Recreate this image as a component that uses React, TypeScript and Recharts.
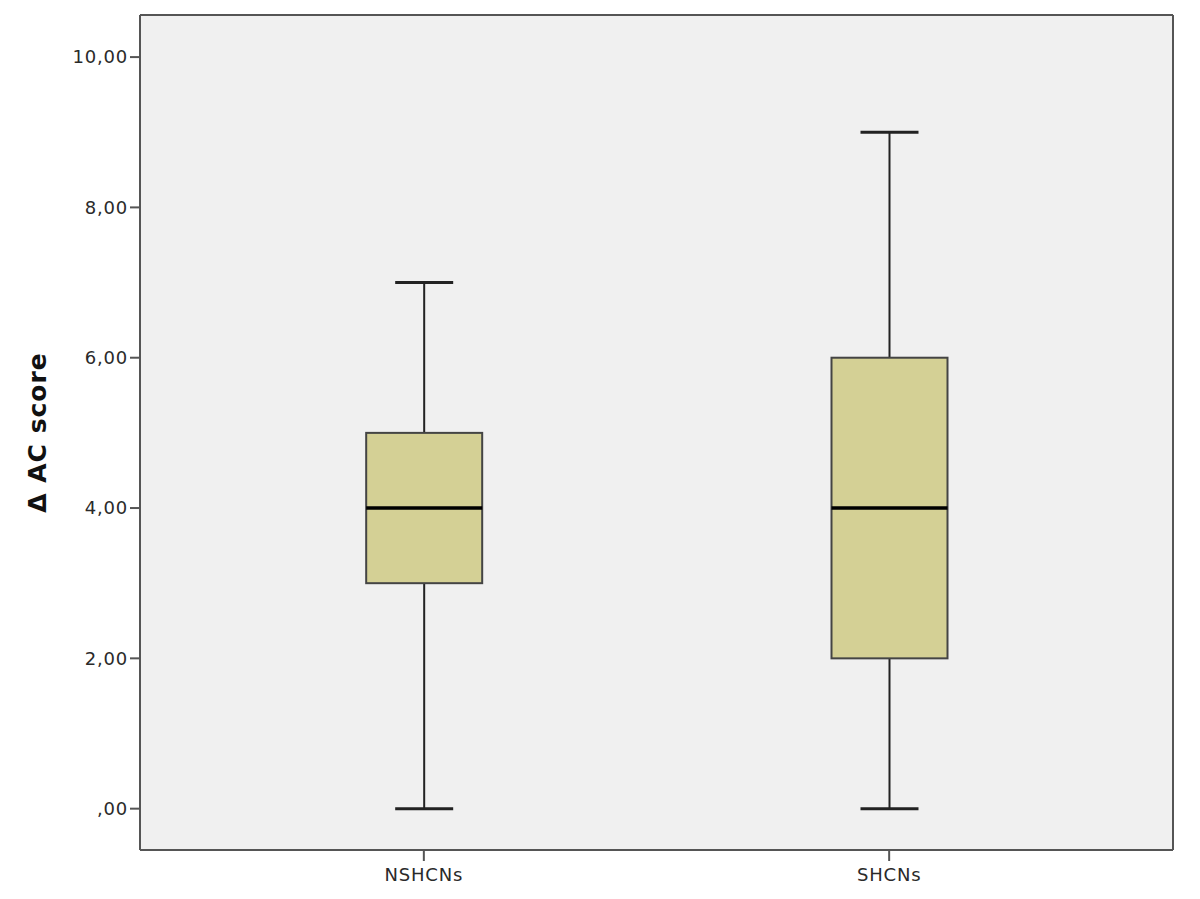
import React from "react";
import { ComposedChart, Bar, XAxis, YAxis, CartesianGrid } from "recharts";

const categories = ["NSHCNs", "SHCNs"];
const minValues = [0, 0];
const q1Values = [3, 2];
const medianValues = [4, 4];
const q3Values = [5, 6];
const maxValues = [7, 9];
const yTicks = [0, 2, 4, 6, 8, 10];

const Y_DOMAIN: [number, number] = [-0.55, 10.56];
const X_DOMAIN: [number, number] = [-0.61, 1.61];

const BOX_FILL = "#d4d095";
const LINE = "#222";
const BORDER = "#555";
const FONT = "'DejaVu Sans', Verdana, sans-serif";
const TICK_STYLE = { fontSize: 18, fill: "#2a2a2a", fontFamily: FONT, letterSpacing: 0.8 };

const data = categories.map((name, i) => ({
  x: i,
  name,
  min: minValues[i],
  q1: q1Values[i],
  median: medianValues[i],
  q3: q3Values[i],
  max: maxValues[i],
  range: [minValues[i], maxValues[i]],
}));

const formatY = (v: number) => (v === 0 ? ",00" : v.toFixed(2).replace(".", ","));

// draws whiskers, caps, box and median inside the min..max range bar
const BoxShape = (props: any) => {
  const { x, y, width, height, payload } = props;
  if (height == null || !payload) return null;
  const span = payload.max - payload.min;
  const py = (v: number) => y + (height * (payload.max - v)) / span;
  const cx = x + width / 2;
  const capHalf = width / 4;
  return (
    <g>
      <line x1={cx} x2={cx} y1={py(payload.max)} y2={py(payload.q3)} stroke={LINE} strokeWidth={2} />
      <line x1={cx} x2={cx} y1={py(payload.q1)} y2={py(payload.min)} stroke={LINE} strokeWidth={2} />
      <line x1={cx - capHalf} x2={cx + capHalf} y1={py(payload.max)} y2={py(payload.max)} stroke={LINE} strokeWidth={3} />
      <line x1={cx - capHalf} x2={cx + capHalf} y1={py(payload.min)} y2={py(payload.min)} stroke={LINE} strokeWidth={3} />
      <rect
        x={x}
        y={py(payload.q3)}
        width={width}
        height={py(payload.q1) - py(payload.q3)}
        fill={BOX_FILL}
        stroke="#444"
        strokeWidth={2}
      />
      <line x1={x} x2={x + width} y1={py(payload.median)} y2={py(payload.median)} stroke="#000" strokeWidth={3.5} />
    </g>
  );
};

export default function App() {
  return (
    <div style={{ position: "absolute", left: 0, top: 0 }}>
      <ComposedChart
        width={1200}
        height={899}
        data={data}
        margin={{ top: 0, right: 0, bottom: 0, left: 0 }}
        style={{ background: "#fff" }}
      >
        <CartesianGrid horizontal={false} vertical={false} fill="#f0f0f0" />
        <XAxis
          dataKey="x"
          type="number"
          domain={X_DOMAIN}
          ticks={[0, 1]}
          allowDataOverflow
          tickFormatter={(v: number) => categories[v] ?? ""}
          tick={TICK_STYLE}
          tickSize={11}
          tickMargin={7}
          height={49}
          axisLine={{ stroke: BORDER, strokeWidth: 2 }}
          tickLine={{ stroke: BORDER, strokeWidth: 2 }}
        />
        <XAxis
          xAxisId="top"
          orientation="top"
          type="number"
          domain={X_DOMAIN}
          allowDataOverflow
          height={15}
          tick={false}
          tickLine={false}
          axisLine={{ stroke: BORDER, strokeWidth: 2 }}
        />
        <YAxis
          type="number"
          domain={Y_DOMAIN}
          ticks={yTicks}
          allowDataOverflow
          tickFormatter={formatY}
          tick={TICK_STYLE}
          tickSize={10}
          tickMargin={2}
          width={140}
          axisLine={{ stroke: BORDER, strokeWidth: 2 }}
          tickLine={{ stroke: BORDER, strokeWidth: 2 }}
          label={{
            value: "Δ AC score",
            angle: -90,
            position: "insideLeft",
            offset: 37,
            style: {
              textAnchor: "middle",
              fontSize: 25,
              fontWeight: "bold",
              fontFamily: FONT,
              fill: "#111",
              letterSpacing: 1,
            },
          }}
        />
        <YAxis
          yAxisId="right"
          orientation="right"
          type="number"
          domain={Y_DOMAIN}
          allowDataOverflow
          width={27}
          tick={false}
          tickLine={false}
          axisLine={{ stroke: BORDER, strokeWidth: 2 }}
        />
        <Bar dataKey="range" barSize={116} shape={BoxShape} isAnimationActive={false} />
      </ComposedChart>
    </div>
  );
}
